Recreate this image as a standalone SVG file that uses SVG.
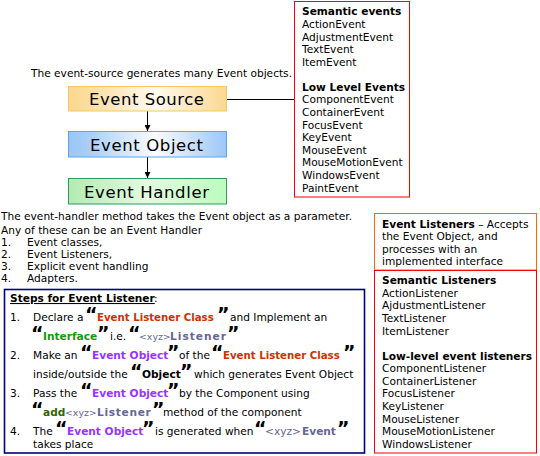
<svg xmlns="http://www.w3.org/2000/svg" width="540" height="456" viewBox="0 0 540 456">
  <defs>
    <linearGradient id="gSource" x1="0" y1="0" x2="1" y2="0">
      <stop offset="0" stop-color="#fbd890"/>
      <stop offset="0.15" stop-color="#fcdfa2"/>
      <stop offset="0.55" stop-color="#fffaf0"/>
      <stop offset="1" stop-color="#fbd890"/>
    </linearGradient>
    <linearGradient id="gObject" x1="0" y1="0" x2="1" y2="0">
      <stop offset="0" stop-color="#9cc6f6"/>
      <stop offset="0.15" stop-color="#acd0f8"/>
      <stop offset="0.55" stop-color="#fafcff"/>
      <stop offset="1" stop-color="#9cc6f6"/>
    </linearGradient>
    <linearGradient id="gHandler" x1="0" y1="0" x2="1" y2="0">
      <stop offset="0" stop-color="#b2ebb2"/>
      <stop offset="0.5" stop-color="#e2fbe2"/>
      <stop offset="1" stop-color="#bcfcbc"/>
    </linearGradient>
    <marker id="arrow" viewBox="0 0 6 6" refX="6" refY="3" markerWidth="6" markerHeight="6" markerUnits="userSpaceOnUse" orient="auto">
      <path d="M0,0 L6,3 L0,6 Z" fill="#000"/>
    </marker>
  </defs>
  <style>
    text { font-family: "DejaVu Sans", Verdana, sans-serif; font-size: 10.6px; fill: #000; }
    .b { font-weight: bold; }
    .big { font-size: 16.5px; }
    .q { font-size: 19px; font-weight: bold; fill: #000; }
    .red { fill: #cc3300; font-weight: bold; font-size: 10.2px; }
    .green { fill: #119911; font-weight: bold; }
    .purple { fill: #9933ff; font-weight: bold; }
    .dkgreen { fill: #336600; font-weight: bold; }
    .gray { fill: #666699; font-size: 9.4px; }
    .grayb { fill: #666699; font-weight: bold; }
  </style>

  <rect width="540" height="456" fill="#ffffff"/>

  <!-- caption above the event chain -->
  <text x="31" y="76.5" textLength="261">The event-source generates many Event objects.</text>

  <!-- connectors -->
  <g id="connectors" stroke="#000" stroke-width="1" fill="none">
    <line x1="226.5" y1="99.5" x2="294.5" y2="99.5"/>
    <line x1="147.5" y1="111" x2="147.5" y2="131" marker-end="url(#arrow)"/>
    <line x1="147.5" y1="157" x2="147.5" y2="178" marker-end="url(#arrow)"/>
  </g>

  <g id="event-source">
    <rect x="68.5" y="86.5" width="158" height="24.5" fill="url(#gSource)" stroke="#f6c863"/>
    <text class="big" x="89" y="105" textLength="115">Event Source</text>
  </g>

  <g id="event-object">
    <rect x="68.5" y="131.5" width="158" height="25.5" fill="url(#gObject)" stroke="#5aa6ee"/>
    <text class="big" x="90" y="151" textLength="113">Event Object</text>
  </g>

  <g id="event-handler">
    <rect x="68.5" y="178.5" width="158" height="25.5" fill="url(#gHandler)" stroke="#2f9a5e"/>
    <text class="big" x="84" y="198" textLength="125">Event Handler</text>
  </g>

  <!-- event types -->
  <g id="event-types">
    <rect x="294.5" y="1.5" width="115" height="195.5" fill="#fff" stroke="#ff0000"/>
    <text class="b" x="302" y="15">Semantic events</text>
    <text x="302" y="28">ActionEvent</text>
    <text x="302" y="40.5">AdjustmentEvent</text>
    <text x="302" y="53">TextEvent</text>
    <text x="302" y="65.5">ItemEvent</text>
    <text class="b" x="302" y="91">Low Level Events</text>
    <text x="302" y="103">ComponentEvent</text>
    <text x="302" y="116">ContainerEvent</text>
    <text x="302" y="129">FocusEvent</text>
    <text x="302" y="141">KeyEvent</text>
    <text x="302" y="154">MouseEvent</text>
    <text x="302" y="166">MouseMotionEvent</text>
    <text x="302" y="179">WindowsEvent</text>
    <text x="302" y="192">PaintEvent</text>
  </g>

  <!-- handler notes -->
  <g id="handler-notes">
    <text x="1" y="219.5" textLength="351">The event-handler method takes the Event object as a parameter.</text>
    <text x="1" y="234" textLength="201">Any of these can be an Event Handler</text>
    <text x="1" y="245.5">1.</text><text x="27" y="245.5">Event classes,</text>
    <text x="1" y="257.5">2.</text><text x="27" y="257.5">Event Listeners,</text>
    <text x="1" y="269.5">3.</text><text x="27" y="269.5">Explicit event handling</text>
    <text x="1" y="281.5">4.</text><text x="27" y="281.5">Adapters.</text>
  </g>

  <!-- listener steps: one text per printed line, segments placed with tspans -->
  <g id="listener-steps">
    <rect x="4.5" y="289.5" width="360" height="163.5" fill="#fff" stroke="#000080" stroke-width="1.6"/>
    <text y="302"><tspan class="b" x="10" text-decoration="underline">Steps for Event Listener</tspan><tspan x="154">:</tspan></text>

    <text y="321"><tspan x="10">1.</tspan><tspan x="33">Declare a</tspan><tspan class="q" x="85">“</tspan><tspan class="red" x="97">Event Listener Class</tspan><tspan class="q" x="217">”</tspan><tspan x="230">and Implement an</tspan></text>

    <text y="340"><tspan class="q" x="31">“</tspan><tspan class="green" x="43">Interface</tspan><tspan class="q" x="97">”</tspan><tspan x="110">i.e.</tspan><tspan class="q" x="128">“</tspan><tspan class="gray" x="139">&lt;xyz&gt;</tspan><tspan class="grayb" x="170" letter-spacing="1">Listener</tspan><tspan class="q" x="227">”</tspan></text>

    <text y="359"><tspan x="10">2.</tspan><tspan x="33">Make an</tspan><tspan class="q" x="80">“</tspan><tspan class="purple" x="92">Event Object</tspan><tspan class="q" x="167">”</tspan><tspan x="179">of the</tspan><tspan class="q" x="211">“</tspan><tspan class="red" x="223">Event Listener Class</tspan><tspan class="q" x="343">”</tspan></text>

    <text y="378"><tspan x="33">inside/outside the</tspan><tspan class="q" x="130">“</tspan><tspan class="b" x="142">Object</tspan><tspan class="q" x="180">”</tspan><tspan x="194">which generates Event Object</tspan></text>

    <text y="397"><tspan x="10">3.</tspan><tspan x="33">Pass the</tspan><tspan class="q" x="80">“</tspan><tspan class="purple" x="92">Event Object</tspan><tspan class="q" x="167">”</tspan><tspan x="179">by the Component using</tspan></text>

    <text y="416"><tspan class="q" x="31">“</tspan><tspan class="dkgreen" x="43">add</tspan><tspan class="gray" x="65">&lt;xyz&gt;</tspan><tspan class="grayb" x="97" letter-spacing="0.7">Listener</tspan><tspan class="q" x="152">”</tspan><tspan x="163">method of the component</tspan></text>

    <text y="435"><tspan x="10">4.</tspan><tspan x="33">The</tspan><tspan class="q" x="55">“</tspan><tspan class="purple" x="67">Event Object</tspan><tspan class="q" x="142">”</tspan><tspan x="155">is generated when</tspan><tspan class="q" x="254">“</tspan><tspan class="gray" x="265" style="font-size:10.6px">&lt;xyz&gt;</tspan><tspan class="grayb" x="302">Event</tspan><tspan class="q" x="337">”</tspan></text>
    <text x="33" y="447.5">takes place</text>
  </g>

  <!-- listener description -->
  <g id="listener-description">
    <rect x="374.5" y="213.5" width="162" height="56.5" fill="#fff" stroke="#ff6600"/>
    <text x="382" y="228"><tspan class="b">Event Listeners</tspan> – Accepts</text>
    <text x="382" y="240">the Event Object, and</text>
    <text x="382" y="252.5">processes with an</text>
    <text x="382" y="265">implemented interface</text>
  </g>

  <!-- listener types -->
  <g id="listener-types">
    <rect x="374.5" y="270.5" width="162" height="182.5" fill="#fff" stroke="#ff0000"/>
    <text class="b" x="382" y="284">Semantic Listeners</text>
    <text x="382" y="297">ActionListener</text>
    <text x="382" y="309">AjdustmentListener</text>
    <text x="382" y="322">TextListener</text>
    <text x="382" y="335">ItemListener</text>
    <text class="b" x="382" y="360">Low-level event listeners</text>
    <text x="382" y="372">ComponentListener</text>
    <text x="382" y="385">ContainerListener</text>
    <text x="382" y="397">FocusListener</text>
    <text x="382" y="410">KeyListener</text>
    <text x="382" y="423">MouseListener</text>
    <text x="382" y="435">MouseMotionListener</text>
    <text x="382" y="448">WindowsListener</text>
  </g>
</svg>
